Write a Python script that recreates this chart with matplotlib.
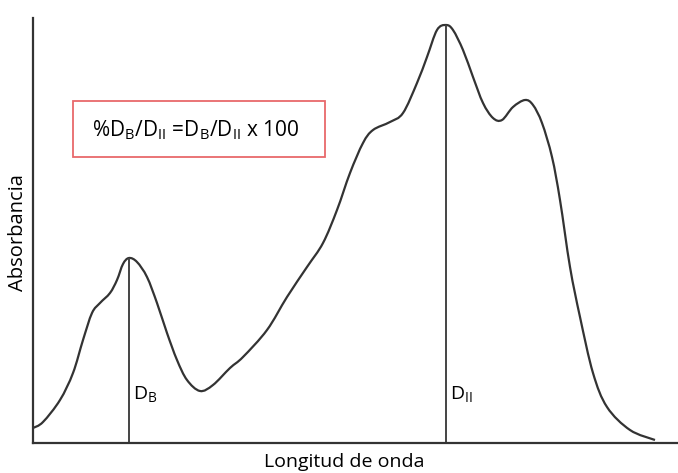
import matplotlib
matplotlib.use("Agg")
import matplotlib.pyplot as plt
from matplotlib.patches import PathPatch, Rectangle
from matplotlib.path import Path

# absorption spectrum traced along the wavelength axis (arbitrary units)
wavelength = [0, 10, 27, 40, 50, 59, 67, 77, 84, 90, 96, 104, 114, 124, 134,
              144, 154, 167, 180, 197, 210, 234, 254, 274, 290, 304, 317, 330,
              340, 357, 370, 384, 394, 404, 413, 420, 430, 440, 450, 460, 469,
              480, 492, 500, 509, 519, 527, 537, 547, 560, 574, 597, 622]
absorbance = [15, 21, 43, 70, 103, 130, 140, 150, 163, 179, 185, 181, 166,
              140, 110, 83, 63, 52, 58, 75, 86, 113, 146, 176, 200, 233, 270,
              300, 313, 321, 330, 360, 386, 413, 418, 413, 393, 366, 340, 325,
              323, 336, 343, 338, 320, 286, 243, 176, 126, 70, 36, 13, 3]

# band maxima marked with vertical lines
peak_labels = ["B", "II"]
peak_pos = [96, 413]
peak_height = [185, 418]

FONT = "Open Sans"
plt.rcParams["font.family"] = [FONT, "DejaVu Sans"]
plt.rcParams["mathtext.fontset"] = "custom"
plt.rcParams["mathtext.rm"] = FONT


def smooth_path(xs, ys):
    """Catmull-Rom through the traced points, as cubic Bezier segments."""
    pts = list(zip(xs, ys))
    verts, codes = [pts[0]], [Path.MOVETO]
    for i in range(len(pts) - 1):
        p0 = pts[max(i - 1, 0)]
        p1, p2 = pts[i], pts[i + 1]
        p3 = pts[min(i + 2, len(pts) - 1)]
        c1 = (p1[0] + (p2[0] - p0[0]) / 6, p1[1] + (p2[1] - p0[1]) / 6)
        c2 = (p2[0] - (p3[0] - p1[0]) / 6, p2[1] - (p3[1] - p1[1]) / 6)
        verts += [c1, c2, p2]
        codes += [Path.CURVE4] * 3
    return Path(verts, codes)


fig = plt.figure(figsize=(6.78, 4.73), dpi=100)
ax = fig.add_axes([33 / 678, 30 / 473, 645 / 678, 425 / 473])

ax.add_patch(PathPatch(smooth_path(wavelength, absorbance), fill=False,
                       edgecolor="#333333", lw=1.6))
for lab, x, h in zip(peak_labels, peak_pos, peak_height):
    ax.vlines(x, 0, h, color="#444444", lw=1.4)
    ax.text(x + 4, 48, "D$_{\\rm " + lab + "}$", fontsize=14, color="black",
            ha="left", va="center")

ax.set_xlim(0, 645)
ax.set_ylim(0, 425)
ax.set_xticks([])
ax.set_yticks([])
for side in ("top", "right"):
    ax.spines[side].set_visible(False)
for side in ("left", "bottom"):
    ax.spines[side].set_color("#333333")
    ax.spines[side].set_linewidth(1.6)

ax.add_patch(Rectangle((40, 286), 252, 56, fill=False, edgecolor="#e8696b",
                       lw=1.3))
ax.text(59, 313, "%D$_{\\rm B}$/D$_{\\rm II}$ =D$_{\\rm B}$/D$_{\\rm II}$ x 100",
        fontsize=15, color="black", ha="left", va="center")

fig.text(18 / 678, 1 - 233 / 473, "Absorbancia", rotation=90, fontsize=14.5,
         ha="center", va="center")
fig.text(344 / 678, 1 - 462 / 473, "Longitud de onda", fontsize=14,
         ha="center", va="center")

fig.savefig("out.png", dpi=100)
